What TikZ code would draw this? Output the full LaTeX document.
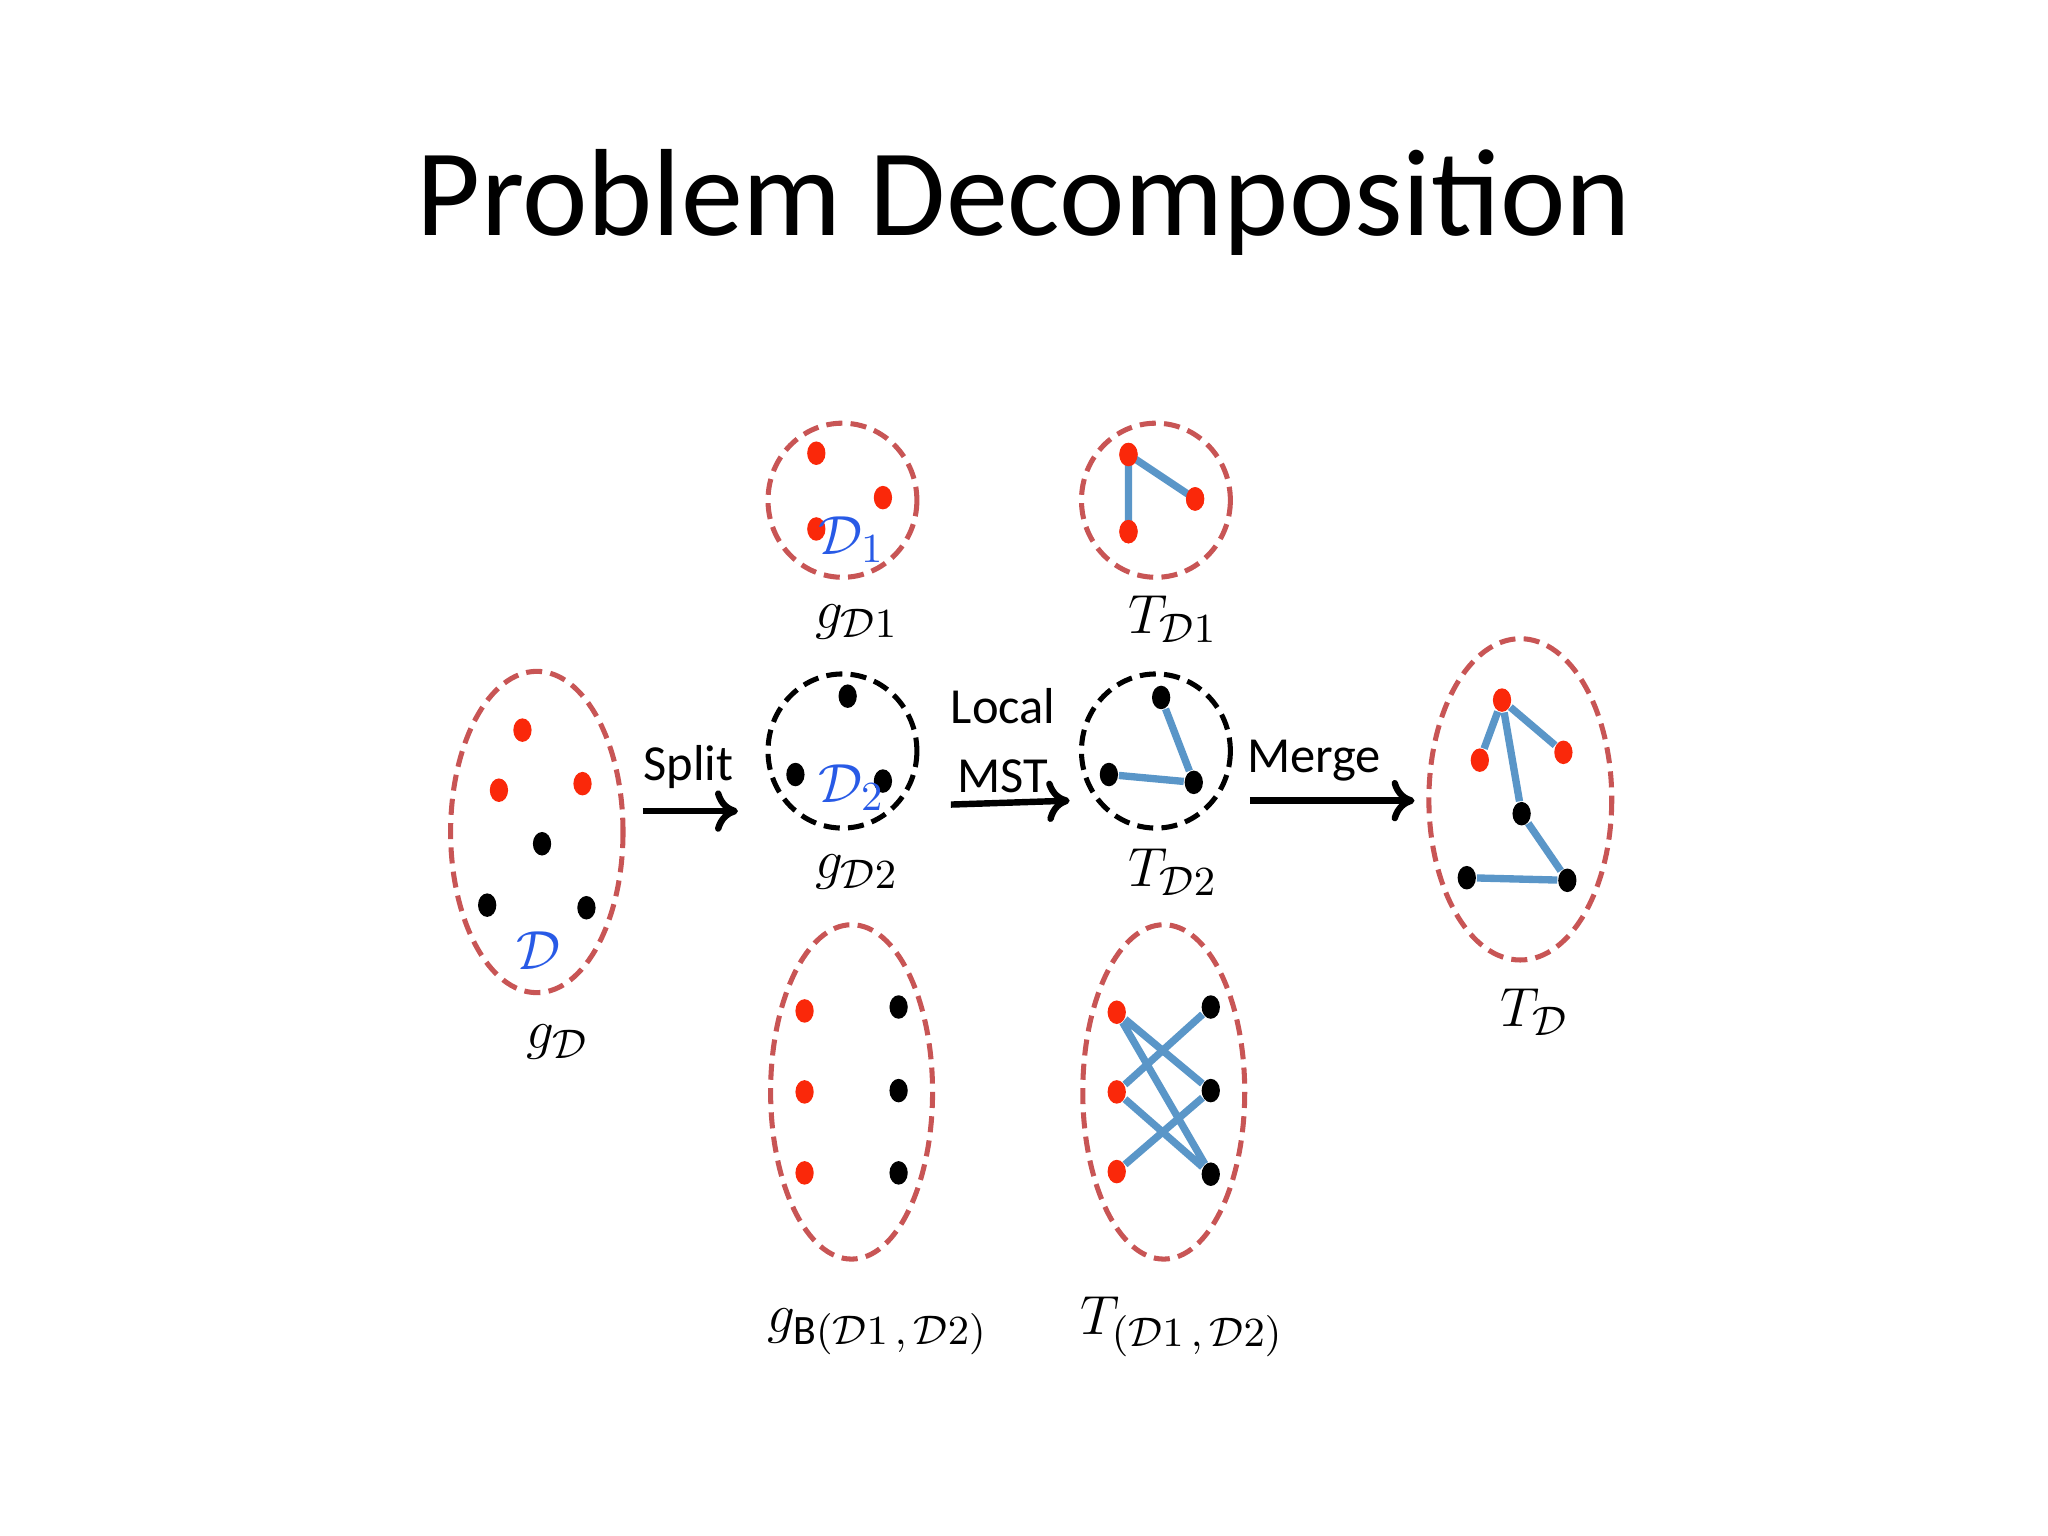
\documentclass[tikz,border=0pt]{standalone}
\usepackage{fontspec}
\setmainfont{Carlito}
\usetikzlibrary{arrows.meta,shapes.geometric}
\definecolor{dashred}{RGB}{200,85,85}
\definecolor{dotred}{RGB}{250,40,10}
\definecolor{edgeblue}{RGB}{90,150,200}
\definecolor{lblue}{RGB}{40,90,230}
\tikzset{
 ring/.style={draw=dashred,dash pattern=on 3.5pt off 1.8pt,line width=1.1pt},
 bring/.style={draw=black,dash pattern=on 3.5pt off 1.8pt,line width=1.1pt},
 rd/.style={fill=dotred,ellipse,minimum width=0.14cm,minimum height=0.18cm,inner sep=0pt},
 bd/.style={fill=black,ellipse,minimum width=0.14cm,minimum height=0.18cm,inner sep=0pt},
 ed/.style={draw=edgeblue,line width=1.6pt},
 lbl/.style={font=\fontsize{13}{15}\selectfont},
 sl/.style={font=\fontsize{11}{13}\selectfont},
 arr/.style={line width=1.4pt,-{To[length=5pt,width=9pt]}}
}
\begin{document}
\begin{tikzpicture}[x=0.01cm,y=-0.01cm]
\useasboundingbox (0,0) rectangle (1568,1176);
\node[font=\fontsize{27}{31}\selectfont] (title) at (784,155) {Problem Decomposition};
% rings
\draw[ring] (411,637) ellipse [x radius=66,y radius=123];
\draw[ring] (645,383) ellipse [x radius=57,y radius=59];
\draw[bring] (645,575) ellipse [x radius=57,y radius=59];
\draw[ring] (652,836) ellipse [x radius=62,y radius=128];
\draw[ring] (885,383) ellipse [x radius=57,y radius=59];
\draw[bring] (885,575) ellipse [x radius=57,y radius=59];
\draw[ring] (891,836) ellipse [x radius=62,y radius=128];
\draw[ring] (1164,612) ellipse [x radius=70,y radius=123];
% gD
\node[rd] (a1) at (400,559) {}; \node[rd] (a2) at (382,605) {}; \node[rd] (a3) at (446,600) {};
\node[bd] (a4) at (415,646) {}; \node[bd] (a5) at (373,693) {}; \node[bd] (a6) at (449,695) {};
\node[text=lblue,lbl] (aD) at (412,728) {$\mathcal{D}$};
% D1
\node[rd] (b1) at (625,347) {}; \node[rd] (b2) at (676,381) {}; \node[rd] (b3) at (625,405) {};
\node[text=lblue,lbl] (bD) at (652,413) {$\mathcal{D}_1$};
% D2
\node[bd] (c1) at (649,533) {}; \node[bd] (c2) at (609,593) {}; \node[bd] (c3) at (676,598) {};
\node[text=lblue,lbl] (cD) at (652,603) {$\mathcal{D}_2$};
% B
\node[rd] (d1) at (616,774) {}; \node[rd] (d2) at (616,836) {}; \node[rd] (d3) at (616,898) {};
\node[bd] (d4) at (688,771) {}; \node[bd] (d5) at (688,835) {}; \node[bd] (d6) at (688,898) {};
% T1
\node[rd] (e1) at (864,348) {}; \node[rd] (e2) at (915,382) {}; \node[rd] (e3) at (864,407) {};
\begin{scope}[on background layer/.try]\end{scope}
\draw[ed] (e1.center) -- (e2.center) (e1.center) -- (e3.center);
\node[rd] at (e1) {}; \node[rd] at (e2) {}; \node[rd] at (e3) {};
% T2
\node[bd] (f1) at (889,534) {}; \node[bd] (f2) at (849,593) {}; \node[bd] (f3) at (914,599) {};
\draw[ed] (f1) -- (f3) (f2) -- (f3);
% TB
\node[rd] (h1) at (855,775) {}; \node[rd] (h2) at (855,836) {}; \node[rd] (h3) at (855,897) {};
\node[bd] (h4) at (927,771) {}; \node[bd] (h5) at (927,835) {}; \node[bd] (h6) at (927,899) {};
\draw[ed] (h1) -- (h5) (h1) -- (h6) (h2) -- (h4) (h2) -- (h6) (h3) -- (h5);
% TD
\node[rd] (k1) at (1150,536) {}; \node[rd] (k2) at (1133,582) {}; \node[rd] (k3) at (1197,576) {};
\node[bd] (k4) at (1165,623) {}; \node[bd] (k5) at (1123,672) {}; \node[bd] (k6) at (1200,674) {};
\draw[ed] (k1) -- (k2) (k1) -- (k3) (k1) -- (k4) (k4) -- (k6) (k5) -- (k6);
% labels
\node[lbl] (lgD) at (427,798) {$g_{\mathcal{D}}$};
\node[lbl] (lg1) at (656,476) {$g_{\mathcal{D}1}$};
\node[lbl] (lg2) at (656,668) {$g_{\mathcal{D}2}$};
\node[lbl] (lgB) at (672,1020) {$g_{\mathrm{B}(\mathcal{D}1\,,\,\mathcal{D}2)}$};
\node[lbl] (lt1) at (898,474) {$T_{\mathcal{D}1}$};
\node[lbl] (lt2) at (898,668) {$T_{\mathcal{D}2}$};
\node[lbl] (ltB) at (905,1016) {$T_{(\mathcal{D}1\,,\,\mathcal{D}2)}$};
\node[lbl] (ltD) at (1175,775) {$T_{\mathcal{D}}$};
% arrows
\coordinate (s1) at (492,621); \coordinate (s2) at (565,621);
\draw[arr] (s1) -- (s2);
\node[sl] (split) at (527,587) {Split};
\coordinate (m1) at (728,616); \coordinate (m2) at (819,613);
\draw[arr] (m1) -- (m2);
\node[sl,align=center] (lmst) at (768,567) {Local\\[2pt]MST};
\coordinate (g1) at (957,613); \coordinate (g2) at (1083,613);
\draw[arr] (g1) -- (g2);
\node[sl] (merge) at (1006,582) {Merge};
\end{tikzpicture}
\end{document}
